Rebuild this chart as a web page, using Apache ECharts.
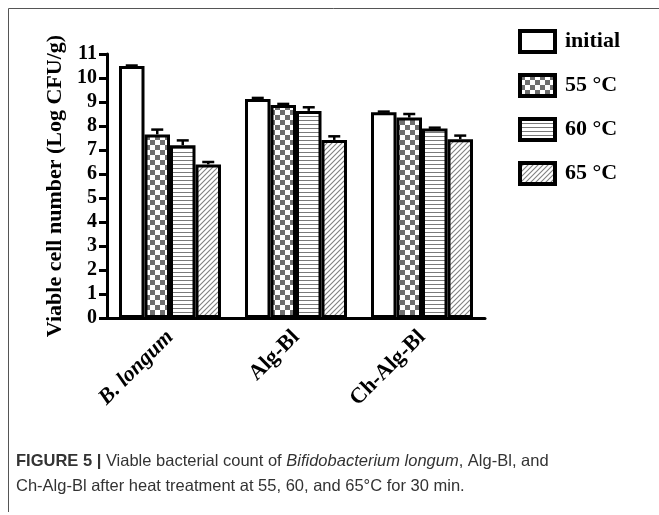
<!DOCTYPE html>
<html>
<head>
<meta charset="utf-8">
<script src="https://cdn.jsdelivr.net/npm/echarts@6/dist/echarts.min.js"></script>
<style>
  html, body { margin: 0; padding: 0; background: #fff; }
  #chart { width: 659px; height: 515px; }
</style>
</head>
<body>
<div id="chart"></div>
<script>
// data
const categories = ['B. longum', 'Alg-Bl', 'Ch-Alg-Bl']
const seriesNames = ['initial', '55 °C', '60 °C', '65 °C']
const initialVals = [10.5, 9.12, 8.57]
const initialErr = [0.02, 0.05, 0.03]
const t55Vals = [7.65, 8.88, 8.35]
const t55Err = [0.2, 0.04, 0.15]
const t60Vals = [7.2, 8.63, 7.9]
const t60Err = [0.2, 0.15, 0.03]
const t65Vals = [6.4, 7.42, 7.45]
const t65Err = [0.1, 0.15, 0.15]
const yTicks = [0, 1, 2, 3, 4, 5, 6, 7, 8, 9, 10, 11]

const serif = '"Liberation Serif", "Times New Roman", serif'
const sans = '"Liberation Sans", Arial, sans-serif'
const barWidth = 25.5
const barGap = 0

// fill patterns
function makePattern(size, draw) {
  const c = document.createElement('canvas')
  c.width = size
  c.height = size
  const ctx = c.getContext('2d')
  ctx.fillStyle = '#fff'
  ctx.fillRect(0, 0, size, size)
  draw(ctx, size)
  return { image: c, repeat: 'repeat' }
}
const checker = makePattern(10, (ctx) => {
  ctx.fillStyle = '#6e6e6e'
  ctx.fillRect(0, 0, 5, 5)
  ctx.fillRect(5, 5, 5, 5)
})
const hstripe = makePattern(4, (ctx) => {
  ctx.fillStyle = '#7a7a7a'
  ctx.fillRect(0, 0, 4, 1)
})
const diag = makePattern(5, (ctx, s) => {
  ctx.strokeStyle = '#808080'
  ctx.lineWidth = 1.1
  ctx.beginPath()
  ctx.moveTo(-1, 1); ctx.lineTo(1, -1)
  ctx.moveTo(0, s); ctx.lineTo(s, 0)
  ctx.moveTo(s - 1, s + 1); ctx.lineTo(s + 1, s - 1)
  ctx.stroke()
})

const fills = ['#fff', checker, hstripe, diag]
const values = [initialVals, t55Vals, t60Vals, t65Vals]
const errors = [initialErr, t55Err, t60Err, t65Err]

const step = barWidth * (1 + barGap)
const total = 4 * barWidth + 3 * barWidth * barGap

const series = []
values.forEach((vals, i) => {
  series.push({
    name: seriesNames[i],
    type: 'bar',
    data: vals,
    barWidth: barWidth,
    barGap: (barGap * 100) + '%',
    itemStyle: { color: fills[i], borderColor: '#000', borderWidth: 3 },
    z: 2
  })
})
values.forEach((vals, i) => {
  const offset = -total / 2 + i * step + barWidth / 2
  series.push({
    type: 'custom',
    z: 3,
    silent: true,
    data: vals.map((v, k) => [k, v, errors[i][k]]),
    renderItem(params, api) {
      const base = api.coord([api.value(0), api.value(1)])
      const top = api.coord([api.value(0), api.value(1) + api.value(2)])
      const x = base[0] + offset
      const style = { stroke: '#000', lineWidth: 2.5 }
      return {
        type: 'group',
        children: [
          { type: 'line', shape: { x1: x, y1: base[1], x2: x, y2: top[1] }, style },
          { type: 'line', shape: { x1: x - 6, y1: top[1], x2: x + 6, y2: top[1] }, style }
        ]
      }
    }
  })
})

const chart = echarts.init(document.getElementById('chart'))
chart.setOption({
  animation: false,
  grid: { left: 107, right: 174, top: 54, bottom: 197 },
  legend: {
    data: seriesNames,
    orient: 'vertical',
    left: 513,
    top: 24,
    itemWidth: 35,
    itemHeight: 21,
    itemGap: 19,
    icon: 'rect',
    itemStyle: { borderWidth: 4, borderColor: '#000' },
    textStyle: { fontFamily: serif, fontWeight: 'bold', fontSize: 22, color: '#000', padding: [0, 0, 0, 5] }
  },
  xAxis: {
    type: 'category',
    data: categories,
    axisLine: { lineStyle: { color: '#000', width: 3 } },
    axisTick: { alignWithLabel: true, length: 10, lineStyle: { width: 3, color: '#000' } },
    axisLabel: {
      rotate: 45,
      margin: 16,
      fontFamily: serif,
      fontWeight: 'bold',
      fontSize: 22,
      color: '#000',
      formatter: (v) => v === 'B. longum' ? '{it|' + v + '}' : v,
      rich: { it: { fontFamily: serif, fontWeight: 'bold', fontStyle: 'italic', fontSize: 22, color: '#000' } }
    }
  },
  yAxis: {
    type: 'value',
    min: yTicks[0],
    max: yTicks[yTicks.length - 1],
    interval: 1,
    name: 'Viable cell number (Log CFU/g)',
    nameLocation: 'middle',
    nameGap: 40,
    nameTextStyle: { fontFamily: serif, fontWeight: 'bold', fontSize: 22, color: '#000' },
    splitLine: { show: false },
    axisLine: { show: true, lineStyle: { color: '#000', width: 3 } },
    axisTick: { show: true, length: 8, lineStyle: { width: 3, color: '#000' } },
    axisLabel: { margin: 10, fontFamily: serif, fontWeight: 'bold', fontSize: 20, color: '#000' }
  },
  graphic: [
    {
      type: 'polyline',
      shape: { points: [[8.5, 512], [8.5, 8.5], [659, 8.5]] },
      style: { stroke: '#555', lineWidth: 1, fill: null }
    },
    {
      type: 'text',
      left: 16,
      top: 449,
      style: {
        text: '{b|FIGURE 5 |} Viable bacterial count of {i|Bifidobacterium longum}, Alg-Bl, and\nCh-Alg-Bl after heat treatment at 55, 60, and 65°C for 30 min.',
        fontFamily: sans,
        fontSize: 16.5,
        lineHeight: 25,
        fill: '#333',
        rich: {
          b: { fontFamily: sans, fontWeight: 'bold', fontSize: 16.5, fill: '#333', lineHeight: 25 },
          i: { fontFamily: sans, fontStyle: 'italic', fontSize: 16.5, fill: '#333', lineHeight: 25 }
        }
      }
    }
  ],
  series: series
})
</script>
</body>
</html>
